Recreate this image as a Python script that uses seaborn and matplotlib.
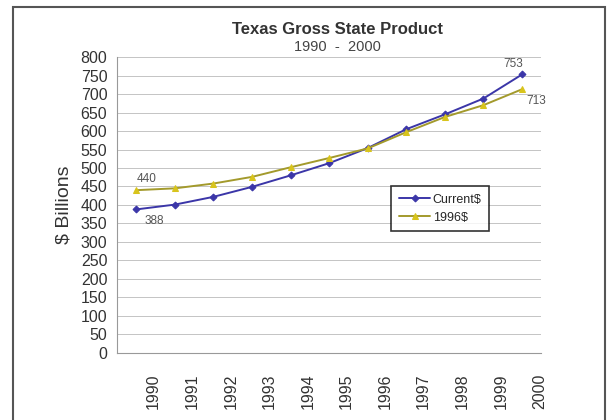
import numpy as np
import pandas as pd
import seaborn as sns
import matplotlib.pyplot as plt
from matplotlib.patches import Rectangle

years = ["1990", "1991", "1992", "1993", "1994", "1995",
         "1996", "1997", "1998", "1999", "2000"]
current_dollars = [388, 401, 422, 449, 480, 513, 554, 605, 645, 688, 753]
real_1996_dollars = [440, 445, 458, 476, 502, 527, 553, 597, 638, 670, 713]
y_ticks = list(range(0, 801, 50))

BLUE = "#3b36a8"
OLIVE = "#a39a2c"
YELLOW = "#d8c41c"


def main():
    sns.set_style("white")
    plt.rcParams["font.family"] = ["Liberation Sans", "DejaVu Sans"]

    df = pd.DataFrame({
        "pos": np.arange(len(years)),
        "Current$": current_dollars,
        "1996$": real_1996_dollars,
    })

    fig = plt.figure(figsize=(6.13, 4.2), dpi=100)
    ax = fig.add_axes([0.191, 0.16, 0.692, 0.704])

    # outer chart frame
    fig.patches.append(Rectangle((0.022, -0.05), 0.965, 1.033, transform=fig.transFigure,
                                 fill=False, edgecolor="#555555", linewidth=1.5))

    for yv in y_ticks[1:]:
        ax.axhline(yv, color="#c4c4c4", linewidth=0.7, zorder=0)

    sns.lineplot(data=df, x="pos", y="Current$", ax=ax, color=BLUE, linewidth=1.4,
                 marker="D", markersize=3.5, markeredgecolor=BLUE, markerfacecolor=BLUE,
                 label="Current$")
    sns.lineplot(data=df, x="pos", y="1996$", ax=ax, color=OLIVE, linewidth=1.4,
                 marker="^", markersize=4.5, markeredgecolor=YELLOW, markerfacecolor=YELLOW,
                 label="1996$")

    ax.set_xlim(-0.5, len(years) - 0.5)
    ax.set_ylim(0, 800)
    ax.set_yticks(y_ticks)
    ax.set_yticklabels([str(v) for v in y_ticks], fontsize=11.5, color="#333333")
    ax.set_xticks(np.arange(len(years)) + 0.45)
    ax.set_xticklabels(years, rotation=90, fontsize=11.5, color="#333333")
    ax.tick_params(axis="both", length=3, color="#999999", pad=4)
    ax.tick_params(axis="x", pad=12)
    ax.set_xlabel("")
    ax.set_ylabel("$ Billions", fontsize=14, color="#333333", labelpad=6)

    for side in ("top", "right"):
        ax.spines[side].set_visible(False)
    for side in ("left", "bottom"):
        ax.spines[side].set_color("#999999")
        ax.spines[side].set_linewidth(0.8)

    # data labels at the ends
    lab = dict(fontsize=8.5, color="#555555")
    ax.annotate(str(real_1996_dollars[0]), (0, real_1996_dollars[0]), xytext=(0, 4),
                textcoords="offset points", ha="left", va="bottom", **lab)
    ax.annotate(str(current_dollars[0]), (0, current_dollars[0]), xytext=(6, -4),
                textcoords="offset points", ha="left", va="top", **lab)
    ax.annotate(str(current_dollars[-1]), (10, current_dollars[-1]), xytext=(-6, 3),
                textcoords="offset points", ha="center", va="bottom", **lab)
    ax.annotate(str(real_1996_dollars[-1]), (10, real_1996_dollars[-1]), xytext=(3, -4),
                textcoords="offset points", ha="left", va="top", **lab)

    leg = ax.legend(loc="upper left", bbox_to_anchor=(0.632, 0.585), frameon=True,
                    fancybox=False, edgecolor="black", fontsize=9, handlelength=2.5,
                    handletextpad=0.2, borderpad=0.6, labelspacing=0.5)
    leg.get_frame().set_linewidth(1.2)

    fig.text(0.55, 0.918, "Texas Gross State Product", ha="center", fontsize=12,
             fontweight="bold", color="#333333")
    fig.text(0.55, 0.878, "1990  -  2000", ha="center", fontsize=10.5, color="#444444")

    fig.savefig("out.png", dpi=100)
    plt.close(fig)


if __name__ == "__main__":
    main()
